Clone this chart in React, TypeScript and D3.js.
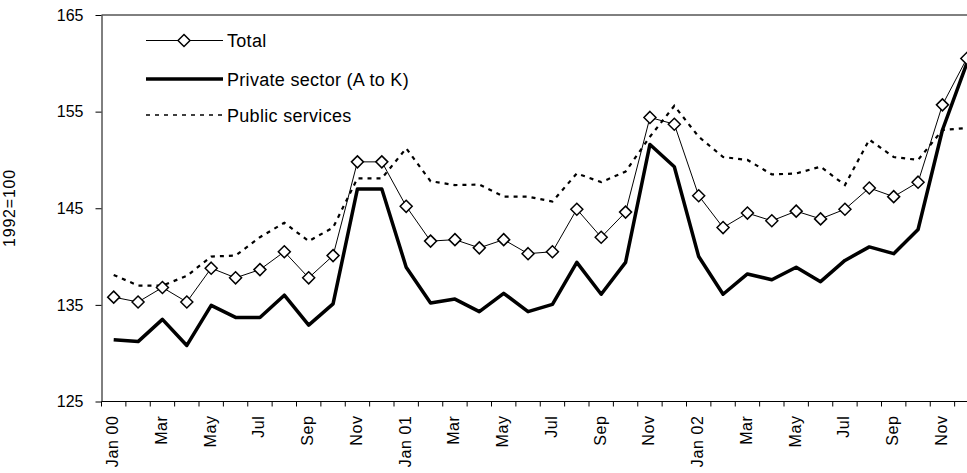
import React, { useEffect, useRef } from "react";
import * as d3 from "d3";

const months = [
  "Jan 00", "Feb 00", "Mar 00", "Apr 00", "May 00", "Jun 00", "Jul 00", "Aug 00", "Sep 00", "Oct 00", "Nov 00", "Dec 00",
  "Jan 01", "Feb 01", "Mar 01", "Apr 01", "May 01", "Jun 01", "Jul 01", "Aug 01", "Sep 01", "Oct 01", "Nov 01", "Dec 01",
  "Jan 02", "Feb 02", "Mar 02", "Apr 02", "May 02", "Jun 02", "Jul 02", "Aug 02", "Sep 02", "Oct 02", "Nov 02", "Dec 02",
];

const tickLabels = [
  "Jan 00", "Mar", "May", "Jul", "Sep", "Nov",
  "Jan 01", "Mar", "May", "Jul", "Sep", "Nov",
  "Jan 02", "Mar", "May", "Jul", "Sep", "Nov",
];

const total = [
  135.8, 135.3, 136.8, 135.3, 138.8, 137.8, 138.65, 140.5, 137.8, 140.1, 149.8, 149.8,
  145.2, 141.6, 141.75, 140.9, 141.75, 140.3, 140.5, 144.9, 142.0, 144.6, 154.4, 153.7,
  146.3, 143.0, 144.5, 143.7, 144.7, 143.9, 144.9, 147.1, 146.2, 147.7, 155.7, 160.5,
];

const privateSector = [
  131.4, 131.2, 133.5, 130.8, 134.95, 133.7, 133.7, 136.0, 132.9, 135.1, 147.0, 147.0,
  138.9, 135.2, 135.6, 134.3, 136.2, 134.3, 135.05, 139.4, 136.1, 139.4, 151.6, 149.3,
  140.0, 136.1, 138.2, 137.6, 138.9, 137.4, 139.6, 141.0, 140.3, 142.8, 153.1, 160.0,
];

const publicServices = [
  138.1, 137.0, 137.0, 138.0, 140.0, 140.1, 142.0, 143.5, 141.6, 143.0, 148.1, 148.1,
  151.2, 147.8, 147.4, 147.45, 146.2, 146.2, 145.7, 148.6, 147.7, 148.8, 152.4, 155.6,
  152.4, 150.3, 150.0, 148.5, 148.6, 149.3, 147.4, 152.1, 150.3, 150.0, 153.1, 153.3,
];

const yTicks = [125, 135, 145, 155, 165];

const width = 967;
const height = 473;
const margin = { top: 15, left: 101.5, bottom: 401.5 };
const plotRight = 979;
const font = "Arial, 'Liberation Sans', sans-serif";

const App: React.FC = () => {
  const ref = useRef<SVGSVGElement | null>(null);

  useEffect(() => {
    const svg = d3.select(ref.current);
    svg.selectAll("*").remove();

    const x = d3
      .scaleBand<number>()
      .domain(d3.range(months.length))
      .range([margin.left, plotRight]);
    const cx = (i: number) => (x(i) || 0) + x.bandwidth() / 2;

    const y = d3.scaleLinear().domain([125, 165]).range([margin.bottom, margin.top]);

    // top border
    svg
      .append("line")
      .attr("x1", margin.left)
      .attr("x2", width)
      .attr("y1", margin.top)
      .attr("y2", margin.top)
      .attr("stroke", "#000")
      .attr("stroke-width", 1);

    // y axis
    const yAxis = svg
      .append("g")
      .attr("transform", `translate(${margin.left},0)`)
      .call(d3.axisLeft(y).tickValues(yTicks).tickSize(6).tickSizeOuter(0).tickPadding(12));
    yAxis.select(".domain").attr("stroke", "#000");
    yAxis.selectAll("line").attr("stroke", "#000");
    yAxis.selectAll("text").attr("font-family", font).attr("font-size", 16).attr("fill", "#000");

    // x axis: ticks on band boundaries
    const xAxis = svg.append("g").attr("transform", `translate(0,${margin.bottom})`);
    xAxis
      .append("line")
      .attr("x1", margin.left)
      .attr("x2", plotRight)
      .attr("stroke", "#000");
    xAxis
      .selectAll(".tk")
      .data(d3.range(months.length + 1))
      .enter()
      .append("line")
      .attr("x1", (i) => margin.left + i * x.bandwidth())
      .attr("x2", (i) => margin.left + i * x.bandwidth())
      .attr("y1", 0)
      .attr("y2", 5)
      .attr("stroke", "#000");
    xAxis
      .selectAll(".lbl")
      .data(tickLabels)
      .enter()
      .append("text")
      .attr("transform", (_, k) => `translate(${cx(k * 2) + 4.5},14) rotate(-90)`)
      .attr("text-anchor", "end")
      .attr("font-family", font)
      .attr("font-size", 16)
      .attr("letter-spacing", 0.6)
      .text((d) => d);

    // y label
    svg
      .append("text")
      .attr("transform", `translate(14.5,208) rotate(-90)`)
      .attr("text-anchor", "middle")
      .attr("font-family", font)
      .attr("font-size", 16)
      .attr("letter-spacing", 0.8)
      .text("1992=100");

    const line = d3
      .line<number>()
      .x((_, i) => cx(i))
      .y((d) => y(d));

    svg
      .append("path")
      .datum(publicServices)
      .attr("d", line)
      .attr("fill", "none")
      .attr("stroke", "#000")
      .attr("stroke-width", 2.2)
      .attr("stroke-dasharray", "4,5");

    svg
      .append("path")
      .datum(privateSector)
      .attr("d", line)
      .attr("fill", "none")
      .attr("stroke", "#000")
      .attr("stroke-width", 3.5)
      .attr("stroke-linejoin", "round");

    svg
      .append("path")
      .datum(total)
      .attr("d", line)
      .attr("fill", "none")
      .attr("stroke", "#000")
      .attr("stroke-width", 1);

    const diamond = "M0,-6L6,0L0,6L-6,0Z";
    svg
      .selectAll(".dm")
      .data(total)
      .enter()
      .append("path")
      .attr("d", diamond)
      .attr("transform", (d, i) => `translate(${cx(i)},${y(d)})`)
      .attr("fill", "#fff")
      .attr("stroke", "#000")
      .attr("stroke-width", 1.5);

    // legend
    const legend = [
      { name: "Total", width: 1, dash: null as string | null, marker: true },
      { name: "Private sector (A to K)", width: 3.5, dash: null, marker: false },
      { name: "Public services", width: 1.5, dash: "4,5", marker: false },
    ];
    const lg = svg.append("g");
    legend.forEach((l, k) => {
      const ly = [40.5, 79, 115][k];
      lg.append("line")
        .attr("x1", 146)
        .attr("x2", 223)
        .attr("y1", ly)
        .attr("y2", ly)
        .attr("stroke", "#000")
        .attr("stroke-width", l.width)
        .attr("stroke-dasharray", l.dash);
      if (l.marker) {
        lg.append("path")
          .attr("d", diamond)
          .attr("transform", `translate(184,${ly})`)
          .attr("fill", "#fff")
          .attr("stroke", "#000")
          .attr("stroke-width", 1.5);
      }
      lg.append("text")
        .attr("x", 227)
        .attr("y", ly + 6.5)
        .attr("font-family", font)
        .attr("font-size", 18)
        .attr("letter-spacing", 0.3)
        .text(l.name);
    });
  }, []);

  return (
    <svg
      ref={ref}
      width={width}
      height={height}
      style={{ position: "absolute", left: 0, top: 0, background: "#fff" }}
    />
  );
};

export default App;
